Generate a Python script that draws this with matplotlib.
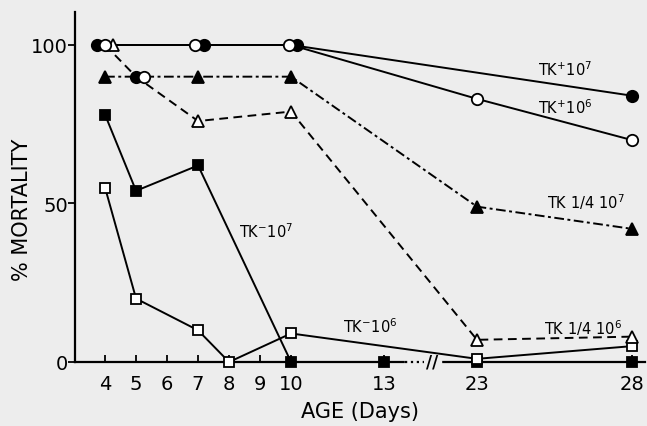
import numpy as np
import matplotlib
matplotlib.use('Agg')
import matplotlib.pyplot as plt
from matplotlib.transforms import offset_copy
from matplotlib.patches import Rectangle

# mortality (%) by age (days) for each inoculum
tkp7_days = [4, 7, 10, 28]
tkp7_mort = [100, 100, 100, 84]
tkp6_days = [4, 7, 10, 23, 28]
tkp6_mort = [100, 100, 100, 83, 70]
tkq7_days = [4, 5, 7, 10, 23, 28]
tkq7_mort = [90, 90, 90, 90, 49, 42]
tkq6_days = [4, 5, 7, 10, 23, 28]
tkq6_mort = [100, 90, 76, 79, 7, 8]
tkm7_days = [4, 5, 7, 10, 13, 23, 28]
tkm7_mort = [78, 54, 62, 0, 0, 0, 0]
tkm6_days = [4, 5, 7, 8, 10, 23, 28]
tkm6_mort = [55, 20, 10, 0, 9, 1, 5]

xticks = [4, 5, 6, 7, 8, 9, 10, 13, 23, 28]
yticks = [0, 50, 100]

BG = '#ededed'


# the day axis is broken between 13 and 23
def fwd(d):
    d = np.asarray(d, dtype=float)
    return np.where(d <= 13, d, np.where(d >= 23, d - 7, 13 + (d - 13) * 0.3))


def inv(t):
    t = np.asarray(t, dtype=float)
    return np.where(t <= 13, t, np.where(t >= 16, t + 7, 13 + (t - 13) / 0.3))


fig = plt.figure(figsize=(6.47, 4.27), dpi=100, facecolor=BG)
ax = fig.add_axes([75 / 647, 64 / 427, 570 / 647, 350 / 427])
ax.set_facecolor('none')
ax.set_xscale('function', functions=(fwd, inv))
ax.set_xlim(3.03, 28.42)
ax.set_ylim(0, 110.4)

lw = 1.4
dash = (0, (4.5, 2.8))
dashdot = (0, (5, 1.8, 1.5, 1.8))

# (days, values, marker, filled, linestyle, key)
series = [
    (tkm7_days, tkm7_mort, 's', True, '-', 'm7'),
    (tkm6_days, tkm6_mort, 's', False, '-', 'm6'),
    (tkq7_days, tkq7_mort, '^', True, dashdot, 'q7'),
    (tkq6_days, tkq6_mort, '^', False, dash, 'q6'),
    (tkp7_days, tkp7_mort, 'o', True, '-', 'p7'),
    (tkp6_days, tkp6_mort, 'o', False, '-', 'p6'),
]

# markers that sit on top of each other are pushed sideways a little (pixels)
nudge = {('p7', 4): -8, ('q6', 4): 8, ('q6', 5): 8,
         ('p6', 7): -3, ('p7', 7): 6, ('p6', 10): -2, ('p7', 10): 6}
# at day 5 the quarter-dose points are drawn as round dots
shape = {('q7', 5): 'o', ('q6', 5): 'o'}

for days, vals, mk, filled, ls, key in series:
    ax.plot(days, vals, color='black', lw=lw, ls=ls, zorder=2, clip_on=False)
for days, vals, mk, filled, ls, key in series:
    for d, v in zip(days, vals):
        m = shape.get((key, d), mk)
        ms = 6.8 if m == 's' else 8.2
        tr = offset_copy(ax.transData, fig=fig, x=nudge.get((key, d), 0), y=0, units='dots')
        ax.plot([d], [v], marker=m, ms=ms, mec='black', mew=1.3,
                mfc='black' if filled else 'white', ls='none',
                transform=tr, zorder=4, clip_on=False)

# axis break
ax.add_patch(Rectangle((15.3, -1.2), 3.8, 2.4, color=BG, zorder=5, clip_on=False))
ax.plot([15.3, 17.3], [0, 0], ls=':', lw=1.6, color='black', zorder=6, clip_on=False)
ax.text(18.2, 0, '//', ha='center', va='center', fontsize=12, fontweight='bold', zorder=7)

ax.spines['top'].set_visible(False)
ax.spines['right'].set_visible(False)
for s in ('left', 'bottom'):
    ax.spines[s].set_linewidth(1.6)

ax.set_xticks(xticks)
ax.set_xticklabels([str(t) for t in xticks])
ax.set_yticks(yticks)
ax.tick_params(axis='x', direction='in', length=5, width=1.3, pad=9, labelsize=14)
ax.tick_params(axis='y', direction='out', length=5, width=1.3, pad=0, labelsize=14)
ax.xaxis.set_minor_locator(matplotlib.ticker.NullLocator())

fs = 10.5
ax.text(25.84, 92.4, r'TK$^{+}$10$^{7}$', ha='center', va='center', fontsize=fs)
ax.text(25.84, 80.4, r'TK$^{+}$10$^{6}$', ha='center', va='center', fontsize=fs)
ax.text(26.5, 50.8, r'TK 1/4 10$^{7}$', ha='center', va='center', fontsize=fs)
ax.text(9.19, 41.3, r'TK$^{-}$10$^{7}$', ha='center', va='center', fontsize=fs)
ax.text(12.55, 11.4, r'TK$^{-}$10$^{6}$', ha='center', va='center', fontsize=fs)
ax.text(26.42, 11.0, r'TK 1/4 10$^{6}$', ha='center', va='center', fontsize=fs)

fig.text(22 / 647, 1 - 210 / 427, '% MORTALITY', rotation=90,
         ha='center', va='center', fontsize=15)
fig.text(360 / 647, 1 - 412 / 427, 'AGE (Days)', ha='center', va='center', fontsize=15)

fig.savefig('out.png', dpi=100, facecolor=BG)
